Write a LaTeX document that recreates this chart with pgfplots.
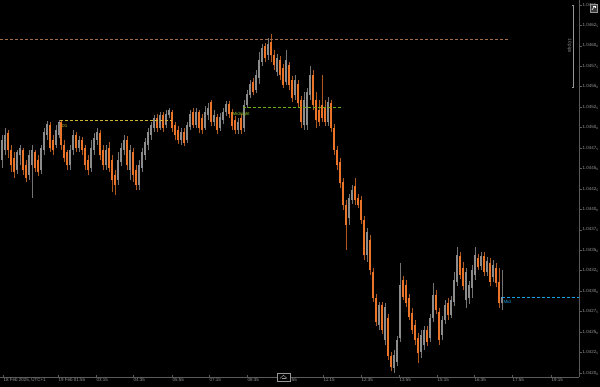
\documentclass[border=0pt]{standalone}
\usepackage{fontspec}
\setmainfont{Liberation Sans}
\usepackage{pgfplots}
\usepackage{pgfplotstable}
\pgfplotsset{compat=1.18}
\definecolor{obody}{RGB}{236,116,40}
\definecolor{owick}{RGB}{175,88,32}
\definecolor{gbody}{RGB}{140,140,140}
\definecolor{gwick}{RGB}{115,115,115}
\definecolor{axgray}{RGB}{90,90,90}
\definecolor{lblgray}{RGB}{150,150,150}
\definecolor{lvltop}{RGB}{165,110,75}
\definecolor{lvlday}{RGB}{205,180,50}
\definecolor{lvlmidn}{RGB}{110,175,25}
\definecolor{lvlmidntxt}{RGB}{150,205,50}
\definecolor{lvlmid}{RGB}{25,160,230}
\newcommand{\tinyf}{\fontsize{4.5}{5}\selectfont}

\pgfplotstableread{
x o h l c
2 1.04460 1.04491 1.04451 1.04485
5 1.04473 1.04500 1.04466 1.04491
17 1.04448 1.04473 1.04443 1.04470
20 1.04466 1.04479 1.04454 1.04475
29 1.04442 1.04473 1.04436 1.04466
32 1.04454 1.04479 1.04414 1.04473
41 1.04448 1.04479 1.04443 1.04475
44 1.04473 1.04500 1.04466 1.04495
47 1.04491 1.04508 1.04485 1.04504
56 1.04479 1.04503 1.04475 1.04497
59 1.04491 1.04509 1.04487 1.04507
70 1.04454 1.04479 1.04448 1.04473
73 1.04473 1.04497 1.04466 1.04491
79 1.04475 1.04490 1.04470 1.04485
91 1.04451 1.04485 1.04446 1.04475
94 1.04473 1.04493 1.04466 1.04487
97 1.04485 1.04500 1.04479 1.04495
106 1.04454 1.04479 1.04448 1.04473
118 1.04436 1.04470 1.04430 1.04460
121 1.04458 1.04481 1.04453 1.04475
124 1.04473 1.04491 1.04466 1.04485
130 1.04448 1.04479 1.04436 1.04473
139 1.04430 1.04460 1.04424 1.04454
142 1.04451 1.04475 1.04446 1.04470
145 1.04466 1.04487 1.04460 1.04482
148 1.04479 1.04500 1.04473 1.04495
151 1.04491 1.04507 1.04485 1.04503
154 1.04500 1.04515 1.04495 1.04512
160 1.04500 1.04519 1.04497 1.04515
166 1.04503 1.04522 1.04500 1.04517
169 1.04515 1.04524 1.04512 1.04522
181 1.04485 1.04500 1.04479 1.04495
187 1.04485 1.04507 1.04481 1.04503
190 1.04501 1.04522 1.04497 1.04517
196 1.04503 1.04524 1.04500 1.04519
205 1.04500 1.04526 1.04497 1.04519
208 1.04515 1.04530 1.04509 1.04524
214 1.04507 1.04522 1.04502 1.04515
220 1.04500 1.04518 1.04496 1.04513
223 1.04509 1.04524 1.04504 1.04519
226 1.04519 1.04533 1.04514 1.04529
238 1.04497 1.04512 1.04492 1.04507
244 1.04500 1.04534 1.04495 1.04528
247 1.04528 1.04546 1.04524 1.04541
250 1.04540 1.04558 1.04536 1.04553
256 1.04546 1.04570 1.04542 1.04564
259 1.04561 1.04592 1.04553 1.04583
262 1.04580 1.04602 1.04575 1.04597
268 1.04589 1.04610 1.04583 1.04602
277 1.04568 1.04590 1.04563 1.04585
286 1.04556 1.04595 1.04552 1.04583
295 1.04540 1.04564 1.04534 1.04558
304 1.04503 1.04544 1.04497 1.04534
307 1.04503 1.04548 1.04497 1.04544
310 1.04540 1.04575 1.04534 1.04564
328 1.04507 1.04537 1.04502 1.04531
349 1.04389 1.04419 1.04381 1.04414
352 1.04411 1.04430 1.04407 1.04424
367 1.04344 1.04377 1.04336 1.04372
379 1.04259 1.04287 1.04252 1.04283
385 1.04240 1.04285 1.04234 1.04281
394 1.04206 1.04228 1.04200 1.04222
397 1.04213 1.04245 1.04208 1.04240
400 1.04243 1.04334 1.04238 1.04307
421 1.04226 1.04252 1.04218 1.04246
424 1.04234 1.04257 1.04228 1.04252
430 1.04243 1.04272 1.04238 1.04267
433 1.04267 1.04310 1.04262 1.04295
442 1.04246 1.04270 1.04240 1.04265
445 1.04265 1.04289 1.04260 1.04283
451 1.04271 1.04294 1.04267 1.04289
454 1.04287 1.04323 1.04282 1.04314
457 1.04311 1.04354 1.04306 1.04344
466 1.04289 1.04328 1.04279 1.04323
469 1.04292 1.04312 1.04284 1.04307
472 1.04304 1.04332 1.04292 1.04326
475 1.04320 1.04354 1.04314 1.04344
481 1.04331 1.04348 1.04326 1.04343
487 1.04323 1.04342 1.04319 1.04337
493 1.04317 1.04338 1.04311 1.04332
502 1.04285 1.04326 1.04277 1.04293
}\updata

\pgfplotstableread{
x o h l c
8 1.04493 1.04497 1.04463 1.04473
11 1.04473 1.04479 1.04446 1.04454
14 1.04463 1.04470 1.04438 1.04446
23 1.04473 1.04475 1.04442 1.04448
26 1.04454 1.04460 1.04433 1.04438
35 1.04470 1.04473 1.04446 1.04451
38 1.04460 1.04466 1.04441 1.04446
50 1.04503 1.04507 1.04470 1.04475
53 1.04485 1.04491 1.04466 1.04473
61 1.04507 1.04509 1.04473 1.04479
64 1.04479 1.04485 1.04458 1.04463
67 1.04470 1.04473 1.04448 1.04454
76 1.04491 1.04495 1.04470 1.04475
82 1.04485 1.04488 1.04466 1.04473
85 1.04475 1.04479 1.04448 1.04454
88 1.04460 1.04466 1.04442 1.04448
100 1.04493 1.04497 1.04460 1.04466
103 1.04473 1.04479 1.04448 1.04454
109 1.04475 1.04482 1.04446 1.04451
112 1.04460 1.04466 1.04421 1.04436
115 1.04442 1.04448 1.04418 1.04430
127 1.04485 1.04490 1.04448 1.04454
133 1.04470 1.04475 1.04433 1.04442
136 1.04448 1.04454 1.04424 1.04430
157 1.04512 1.04517 1.04495 1.04500
163 1.04515 1.04519 1.04495 1.04500
172 1.04519 1.04522 1.04495 1.04500
175 1.04503 1.04507 1.04485 1.04491
178 1.04497 1.04502 1.04480 1.04485
184 1.04495 1.04500 1.04477 1.04481
193 1.04519 1.04524 1.04500 1.04503
199 1.04519 1.04522 1.04493 1.04500
202 1.04512 1.04517 1.04492 1.04497
211 1.04531 1.04534 1.04502 1.04507
217 1.04513 1.04517 1.04492 1.04497
229 1.04529 1.04533 1.04512 1.04517
232 1.04519 1.04523 1.04497 1.04502
235 1.04509 1.04514 1.04492 1.04497
241 1.04512 1.04517 1.04492 1.04497
253 1.04556 1.04561 1.04540 1.04544
265 1.04600 1.04603 1.04580 1.04585
271 1.04605 1.04614 1.04580 1.04589
274 1.04589 1.04595 1.04570 1.04577
280 1.04583 1.04588 1.04558 1.04564
283 1.04573 1.04578 1.04548 1.04552
289 1.04577 1.04580 1.04546 1.04552
292 1.04558 1.04563 1.04531 1.04536
298 1.04553 1.04558 1.04524 1.04530
301 1.04534 1.04539 1.04500 1.04507
313 1.04564 1.04570 1.04522 1.04528
316 1.04534 1.04544 1.04500 1.04509
319 1.04522 1.04534 1.04502 1.04507
322 1.04528 1.04564 1.04507 1.04512
325 1.04524 1.04534 1.04502 1.04507
331 1.04530 1.04534 1.04495 1.04500
334 1.04500 1.04504 1.04466 1.04473
337 1.04473 1.04477 1.04448 1.04454
340 1.04458 1.04463 1.04426 1.04432
343 1.04433 1.04438 1.04399 1.04405
346 1.04405 1.04411 1.04350 1.04381
355 1.04429 1.04438 1.04405 1.04411
358 1.04414 1.04419 1.04402 1.04405
361 1.04411 1.04416 1.04382 1.04387
364 1.04387 1.04392 1.04338 1.04344
370 1.04363 1.04369 1.04320 1.04326
373 1.04323 1.04328 1.04287 1.04292
376 1.04292 1.04296 1.04257 1.04262
382 1.04283 1.04287 1.04248 1.04252
388 1.04267 1.04272 1.04216 1.04221
391 1.04221 1.04226 1.04202 1.04207
403 1.04314 1.04319 1.04289 1.04293
406 1.04307 1.04314 1.04281 1.04285
409 1.04292 1.04296 1.04265 1.04268
412 1.04273 1.04279 1.04248 1.04252
415 1.04259 1.04265 1.04234 1.04240
418 1.04243 1.04249 1.04212 1.04224
427 1.04252 1.04257 1.04233 1.04238
436 1.04295 1.04301 1.04272 1.04277
439 1.04274 1.04279 1.04234 1.04240
448 1.04285 1.04292 1.04265 1.04271
460 1.04343 1.04348 1.04315 1.04320
463 1.04328 1.04336 1.04301 1.04306
478 1.04341 1.04345 1.04326 1.04330
484 1.04343 1.04348 1.04319 1.04323
490 1.04334 1.04341 1.04306 1.04311
496 1.04328 1.04334 1.04305 1.04310
499 1.04311 1.04328 1.04279 1.04285
}\downdata

\pgfplotstableread{
x y
0 1.046084
510 1.046084
}\lvltopdata
\pgfplotstableread{
x y
60 1.045082
172 1.045082
}\lvldaydata
\pgfplotstableread{
x y
243 1.045253
343 1.045253
}\lvlmidndata
\pgfplotstableread{
x y
502 1.042929
579 1.042929
}\lvlmiddata

\begin{document}
\begin{tikzpicture}
\fill[black] (0bp,-10bp) rectangle (600bp,377bp);
\path[use as bounding box] (0bp,-10bp) rectangle (600bp,377bp);
\begin{axis}[
  at={(0bp,0bp)}, anchor=south west,
  scale only axis, width=579bp, height=377bp,
  xmin=0, xmax=579, ymin=1.041951, ymax=1.046561,
  axis x line*=bottom, axis y line*=right,
  axis line style={draw=axgray, line width=0.6bp},
  scaled y ticks=false, scaled x ticks=false,
  xtick={3,58,96,133,172,209,247,285,323,361,399,437,474,512,551},
  xticklabels={18 Feb 2025\rlap{, UTC+1},19 Feb 01:55,03:15,04:35,05:55,07:15,08:35,09:55,11:15,12:35,13:55,15:15,16:35,17:55,19:15},
  ytick={1.042,1.04225,1.0425,1.04275,1.043,1.04325,1.0435,1.04375,1.044,1.04425,1.0445,1.04475,1.045,1.04525,1.0455,1.04575,1.046,1.04625,1.0465},
  yticklabels={1.0420\textsubscript{0},1.0422\textsubscript{5},1.0425\textsubscript{0},1.0427\textsubscript{5},1.0430\textsubscript{0},1.0432\textsubscript{5},1.0435\textsubscript{0},1.0437\textsubscript{5},1.0440\textsubscript{0},1.0442\textsubscript{5},1.0445\textsubscript{0},1.0447\textsubscript{5},1.0450\textsubscript{0},1.0452\textsubscript{5},1.0455\textsubscript{0},1.0457\textsubscript{5},1.0460\textsubscript{0},1.0462\textsubscript{5},1.0465\textsubscript{0}},
  xtick align=inside, ytick align=outside,
  major tick length=2.5bp,
  tick style={draw=axgray, line width=0.6bp},
  xticklabel style={font=\tinyf, text=lblgray, anchor=north west, inner sep=0.5bp, yshift=-1bp},
  yticklabel style={font=\tinyf, text=lblgray, anchor=west, inner sep=0.5bp, xshift=0.5bp},
]
% wicks
\addplot[draw=none, mark=none, forget plot,
  error bars/.cd, y dir=plus, y explicit, error mark=none,
  error bar style={draw=gwick, line width=0.7bp}]
  table[x=x, y=l, y error plus expr=\thisrow{h}-\thisrow{l}] {\updata};
\addplot[draw=none, mark=none, forget plot,
  error bars/.cd, y dir=plus, y explicit, error mark=none,
  error bar style={draw=owick, line width=0.7bp}]
  table[x=x, y=l, y error plus expr=\thisrow{h}-\thisrow{l}] {\downdata};
% bodies
\addplot[draw=none, mark=none, forget plot,
  error bars/.cd, y dir=plus, y explicit, error mark=none,
  error bar style={draw=gbody, line width=2.5bp}]
  table[x=x, y=o, y error plus expr=\thisrow{c}-\thisrow{o}] {\updata};
\addplot[draw=none, mark=none, forget plot,
  error bars/.cd, y dir=plus, y explicit, error mark=none,
  error bar style={draw=obody, line width=2.5bp}]
  table[x=x, y=c, y error plus expr=\thisrow{o}-\thisrow{c}] {\downdata};
% level lines
\addplot[draw=lvltop, mark=none, line width=0.9bp, dash pattern=on 3bp off 2bp, forget plot] table[x=x, y=y] {\lvltopdata};
\addplot[draw=lvlday, mark=none, line width=0.9bp, dash pattern=on 3bp off 2bp, forget plot] table[x=x, y=y] {\lvldaydata};
\addplot[draw=lvlmidn, mark=none, line width=0.9bp, dash pattern=on 3bp off 2bp, forget plot] table[x=x, y=y] {\lvlmidndata};
\addplot[draw=lvlmid, mark=none, line width=0.9bp, dash pattern=on 3bp off 2bp, forget plot] table[x=x, y=y] {\lvlmiddata};
\end{axis}
% annotations (pixel -> bp: x, 377-y)
\node[anchor=west, inner sep=0.5bp, text=lvlday, font=\tinyf] at (61bp,251bp) {D1};
\node[anchor=west, inner sep=0.5bp, text=lvlmidntxt, font=\tinyf] at (232bp,263bp) {Midnight};
\node[anchor=west, inner sep=0.5bp, text=lvlmid, font=\tinyf] at (503bp,75bp) {Mid};
% scale bar
\draw[lblgray, line width=0.6bp] (573bp,372bp) -- (573bp,290bp);
\draw[lblgray, line width=0.6bp] (572bp,372bp) -- (574bp,372bp);
\draw[lblgray, line width=0.6bp] (572bp,290bp) -- (574bp,290bp);
\node[rotate=-90, inner sep=0.5bp, text=lblgray, font=\tinyf] at (569.5bp,331bp) {10 pips};
% top-right icon
\draw[lblgray, fill={rgb,255:red,60;green,60;blue,60}, line width=0.5bp] (590bp,365bp) rectangle (597bp,373bp);
\draw[white, line width=0.5bp] (591.8bp,367bp) -- (595bp,371bp);
\draw[white, line width=0.5bp] (593bp,371bp) -- (595bp,371bp) -- (595bp,369bp);
% bottom scroll icon
\draw[lblgray, fill=black, line width=0.5bp] (277bp,4bp) rectangle (290bp,-4bp);
\draw[lblgray, line width=0.5bp] (280bp,-1.5bp) -- (283.5bp,1.8bp) -- (287bp,-1.5bp);
\draw[lblgray, line width=0.5bp] (281.5bp,-1.5bp) -- (285.5bp,-1.5bp);
\end{tikzpicture}
\end{document}
